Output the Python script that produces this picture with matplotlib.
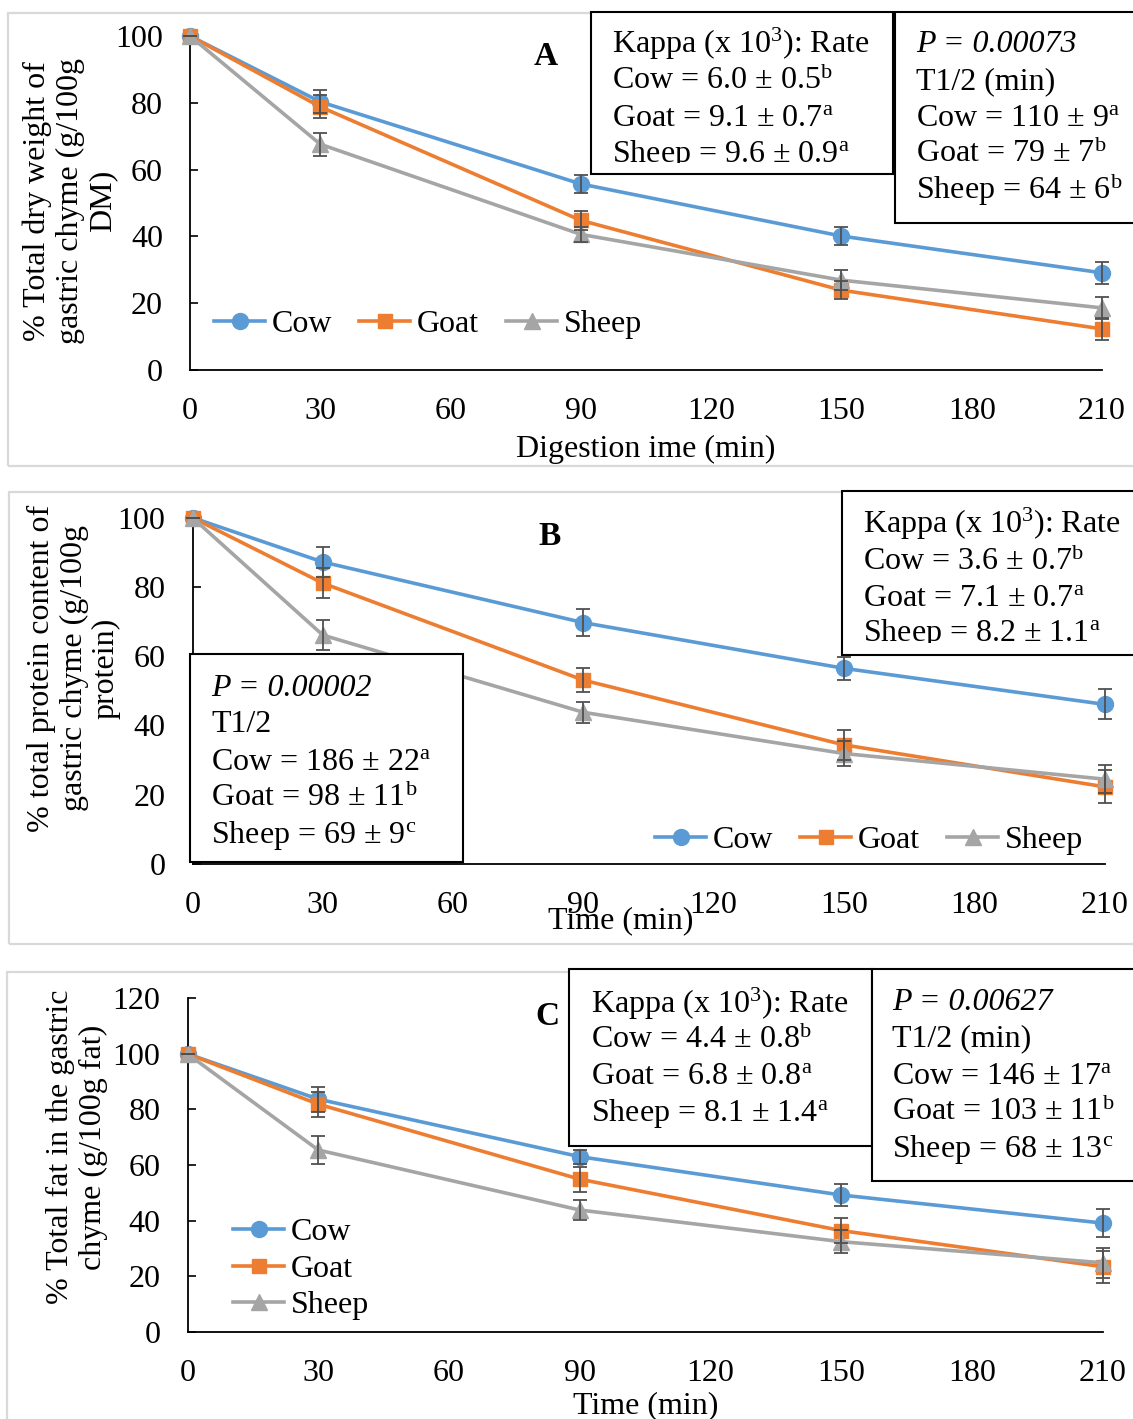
import matplotlib
matplotlib.use("Agg")
import matplotlib.pyplot as plt
from matplotlib.patches import Rectangle
from matplotlib.transforms import Bbox, TransformedBbox

plt.rcParams['font.family'] = ['Liberation Serif', 'DejaVu Serif']
plt.rcParams['mathtext.fontset'] = 'custom'
plt.rcParams['mathtext.rm'] = 'Liberation Serif'
plt.rcParams['mathtext.it'] = 'Liberation Serif:italic'
plt.rcParams['mathtext.bf'] = 'Liberation Serif:bold'

# ---- data -------------------------------------------------------------
time_min = [0, 30, 90, 150, 210]
species = ["Cow", "Goat", "Sheep"]

# A: dry matter remaining (g/100g DM)
dm_cow = [100, 80.3, 55.7, 40.1, 29.1]
dm_goat = [100, 78.8, 44.8, 23.9, 12.3]
dm_sheep = [100, 67.6, 40.6, 26.9, 18.6]
dm_cow_err = [0, 3.5, 2.8, 2.8, 3.3]
dm_goat_err = [0, 3.5, 2.8, 2.6, 3.2]
dm_sheep_err = [0, 3.5, 2.3, 3.0, 3.2]

# B: protein remaining (g/100g protein)
pr_cow = [100, 87.2, 69.7, 56.5, 46.1]
pr_goat = [100, 81.1, 53.1, 34.4, 22.3]
pr_sheep = [100, 66.1, 43.8, 31.9, 24.5]
pr_cow_err = [0, 4.3, 3.9, 3.4, 4.3]
pr_goat_err = [0, 4.3, 3.5, 4.3, 4.8]
pr_sheep_err = [0, 4.3, 3.0, 3.7, 4.1]

# C: fat remaining (g/100g fat)
fat_cow = [100, 83.7, 63.0, 49.2, 39.1]
fat_goat = [100, 81.9, 54.9, 36.4, 23.4]
fat_sheep = [100, 65.4, 43.8, 32.4, 24.8]
fat_cow_err = [0, 4.5, 2.5, 3.8, 4.9]
fat_goat_err = [0, 4.5, 4.5, 4.4, 5.8]
fat_sheep_err = [0, 5.1, 3.6, 4.2, 5.5]

x_ticks = [0, 30, 60, 90, 120, 150, 180, 210]

# ---- styling -----------------------------------------------------------
W, H = 1133, 1419
colors = ["#5B9BD5", "#ED7D31", "#A5A5A5"]
markers = ["o", "s", "^"]
msizes = [11.5, 10.5, 11]
FS = 23
ERR_COLOR = "#505050"

fig = plt.figure(figsize=(W / 100, H / 100), dpi=100)


def fx(px):
    return px / W


def fy(py):
    return 1 - py / H


def add_axes(x0, x1, y_top, y_bot):
    return fig.add_axes([fx(x0), fy(y_bot), (x1 - x0) / W, (y_bot - y_top) / H])


def style_axes(ax, ymax, ystep):
    ax.set_xlim(0, 210)
    ax.set_ylim(0, ymax)
    ax.set_xticks(x_ticks)
    ax.set_yticks(list(range(0, ymax + 1, ystep)))
    for s in ("top", "right"):
        ax.spines[s].set_visible(False)
    for s in ("left", "bottom"):
        ax.spines[s].set_linewidth(1.3)
        ax.spines[s].set_color("black")
    ax.tick_params(axis="x", length=0, pad=19.5, labelsize=FS)
    ax.tick_params(axis="y", direction="in", length=6, width=1.2, pad=19.5, labelsize=FS)
    ax.patch.set_alpha(0)


def draw_series(ax, values, errors):
    handles = []
    for i, vals in enumerate(values):
        h, = ax.plot(time_min, vals, color=colors[i], lw=2.6, marker=markers[i],
                     ms=msizes[i], mec=colors[i], mfc=colors[i], clip_on=False,
                     zorder=2 + i, label=species[i])
        handles.append(h)
    for vals, errs in zip(values, errors):
        ax.errorbar(time_min, vals, yerr=errs, fmt="none", ecolor=ERR_COLOR,
                    elinewidth=1.3, capsize=5, capthick=1.3, clip_on=False, zorder=6)
    return handles


def panel_frame(x0, y0, x1, y1):
    fig.add_artist(Rectangle((fx(x0), fy(y1)), (x1 - x0) / W, (y1 - y0) / H,
                             transform=fig.transFigure, fill=False,
                             edgecolor="#d9d9d9", lw=1.6, zorder=0))


def text_box(x0, y0, x1, y1, tx, baselines, lines, clip_bottom=None):
    fig.add_artist(Rectangle((fx(x0), fy(y1)), (x1 - x0) / W, (y1 - y0) / H,
                             transform=fig.transFigure, facecolor="white",
                             edgecolor="black", lw=1.5, zorder=10))
    cb = clip_bottom if clip_bottom is not None else y1
    clip = TransformedBbox(Bbox([[fx(x0), fy(cb)], [fx(x1), fy(y0)]]), fig.transFigure)
    for yb, (s, italic) in zip(baselines, lines):
        t = fig.text(fx(tx), fy(yb), s, fontsize=FS, ha="left", va="baseline",
                     fontstyle="italic" if italic else "normal", zorder=11)
        t.set_clip_box(clip)
        t.set_clip_on(True)


def ylabel(cx, cy, s):
    fig.text(fx(cx), fy(cy), s, rotation=90, fontsize=FS, ha="center", va="center",
             multialignment="center", linespacing=1.15, zorder=3)


# ---- panel frames ------------------------------------------------------
panel_frame(8, 13, 1145, 466)
panel_frame(9, 492, 1145, 944)
panel_frame(7, 972, 1145, 1430)

# ---- panel A -----------------------------------------------------------
axA = add_axes(190, 1102, 36, 370)
style_axes(axA, 100, 20)
hA = draw_series(axA, [dm_cow, dm_goat, dm_sheep], [dm_cow_err, dm_goat_err, dm_sheep_err])
ylabel(70, 201, "% Total dry weight of\ngastric chyme (g/100g\nDM)")
fig.text(fx(646), fy(457), "Digestion ime (min)", fontsize=FS, ha="center", va="baseline")
fig.text(fx(546), fy(65), "A", fontsize=24, fontweight="bold", ha="center", va="baseline")
fig.legend(handles=hA, loc="center", bbox_to_anchor=(fx(428), fy(324)), ncol=3,
           frameon=False, fontsize=FS, handlelength=1.6, handletextpad=0.2,
           columnspacing=0.85, borderpad=0, borderaxespad=0)
text_box(591, 12, 893, 174, 612, [52.5, 89, 125.5, 162],
         [(r"Kappa (x 10$^{3}$): Rate", False),
          (r"Cow = 6.0 ± 0.5$^{\mathrm{b}}$", False),
          (r"Goat = 9.1 ± 0.7$^{\mathrm{a}}$", False),
          (r"Sheep = 9.6 ± 0.9$^{\mathrm{a}}$", False)], clip_bottom=163)
text_box(895, 12, 1145, 223, 916, [52.5, 89, 125.5, 162, 198.5],
         [("P = 0.00073", True),
          ("T1/2 (min)", False),
          (r"Cow = 110 ± 9$^{\mathrm{a}}$", False),
          (r"Goat = 79 ± 7$^{\mathrm{b}}$", False),
          (r"Sheep = 64 ± 6$^{\mathrm{b}}$", False)])

# ---- panel B -----------------------------------------------------------
axB = add_axes(192.5, 1104.5, 517.7, 864)
style_axes(axB, 100, 20)
hB = draw_series(axB, [pr_cow, pr_goat, pr_sheep], [pr_cow_err, pr_goat_err, pr_sheep_err])
ylabel(74, 668, "% total protein content of\ngastric chyme (g/100g\nprotein)")
fig.text(fx(621), fy(928), "Time (min)", fontsize=FS, ha="center", va="baseline", zorder=12)
fig.text(fx(550), fy(545), "B", fontsize=24, fontweight="bold", ha="center", va="baseline")
fig.legend(handles=hB, loc="center", bbox_to_anchor=(fx(869), fy(840)), ncol=3,
           frameon=False, fontsize=FS, handlelength=1.6, handletextpad=0.2,
           columnspacing=0.85, borderpad=0, borderaxespad=0)
text_box(842, 491, 1145, 655, 863, [533.5, 569.5, 605.5, 641.5],
         [(r"Kappa (x 10$^{3}$): Rate", False),
          (r"Cow = 3.6 ± 0.7$^{\mathrm{b}}$", False),
          (r"Goat = 7.1 ± 0.7$^{\mathrm{a}}$", False),
          (r"Sheep = 8.2 ± 1.1$^{\mathrm{a}}$", False)], clip_bottom=643)
text_box(190, 654, 463, 862, 211, [695.5, 732.5, 770, 806.5, 842.5],
         [("P = 0.00002", True),
          ("T1/2", False),
          (r"Cow = 186 ± 22$^{\mathrm{a}}$", False),
          (r"Goat = 98 ± 11$^{\mathrm{b}}$", False),
          (r"Sheep = 69 ± 9$^{\mathrm{c}}$", False)])

# ---- panel C -----------------------------------------------------------
axC = add_axes(187.5, 1102.6, 998.3, 1331.7)
style_axes(axC, 120, 20)
hC = draw_series(axC, [fat_cow, fat_goat, fat_sheep], [fat_cow_err, fat_goat_err, fat_sheep_err])
ylabel(77, 1147, "% Total fat in the gastric\nchyme (g/100g fat)")
fig.text(fx(646), fy(1413), "Time (min)", fontsize=FS, ha="center", va="baseline")
fig.text(fx(547), fy(1025), "C", fontsize=24, fontweight="bold", ha="center", va="baseline")
fig.legend(handles=hC, loc="center", bbox_to_anchor=(fx(301), fy(1269)), ncol=1,
           frameon=False, fontsize=FS, handlelength=1.6, handletextpad=0.2,
           labelspacing=0.22, borderpad=0, borderaxespad=0)
text_box(569, 969, 872, 1146, 591, [1012.5, 1047.5, 1083.5, 1120.5],
         [(r"Kappa (x 10$^{3}$): Rate", False),
          (r"Cow = 4.4 ± 0.8$^{\mathrm{b}}$", False),
          (r"Goat = 6.8 ± 0.8$^{\mathrm{a}}$", False),
          (r"Sheep = 8.1 ± 1.4$^{\mathrm{a}}$", False)])
text_box(872, 969, 1145, 1181, 892, [1010.5, 1046.5, 1083.5, 1120.5, 1156.5],
         [("P = 0.00627", True),
          ("T1/2 (min)", False),
          (r"Cow = 146 ± 17$^{\mathrm{a}}$", False),
          (r"Goat = 103 ± 11$^{\mathrm{b}}$", False),
          (r"Sheep = 68 ± 13$^{\mathrm{c}}$", False)])

fig.savefig("out.png", dpi=100, facecolor="white")
